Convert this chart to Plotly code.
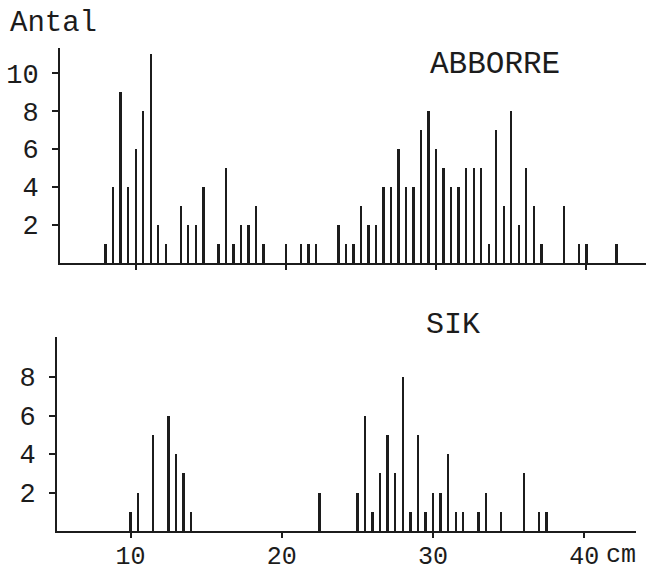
import plotly.graph_objects as go

W, H = 646, 571

# ABBORRE (perch): length class (cm) and count
abborre_cm = [8.0, 8.5, 9.0, 9.5, 10.0, 10.5, 11.0, 11.5, 12.0,
              13.0, 13.5, 14.0, 14.5, 15.5, 16.0, 16.5, 17.0, 17.5, 18.0, 18.5,
              20.0, 21.0, 21.5, 22.0,
              23.5, 24.0, 24.5, 25.0, 25.5, 26.0, 26.5, 27.0, 27.5, 28.0,
              28.5, 29.0, 29.5, 30.0, 30.5, 31.0, 31.5, 32.0, 32.5, 33.0,
              33.5, 34.0, 34.5, 35.0, 35.5, 36.0, 36.5, 37.0,
              38.5, 39.5, 40.0, 42.0]
abborre_n = [1, 4, 9, 4, 6, 8, 11, 2, 1,
             3, 2, 2, 4, 1, 5, 1, 2, 2, 3, 1,
             1, 1, 1, 1,
             2, 1, 1, 3, 2, 2, 4, 4, 6, 4,
             4, 7, 8, 6, 5, 4, 4, 5, 5, 5,
             1, 7, 3, 8, 2, 5, 3, 1,
             3, 1, 1, 1]

# SIK (whitefish)
sik_cm = [10.0, 10.5, 11.5, 12.5, 13.0, 13.5, 14.0,
          22.5,
          25.0, 25.5, 26.0, 26.5, 27.0, 27.5, 28.0, 28.5, 29.0, 29.5,
          30.0, 30.5, 31.0, 31.5, 32.0, 33.0, 33.5, 34.5, 36.0, 37.0, 37.5]
sik_n = [1, 2, 5, 6, 4, 3, 1,
         2,
         2, 6, 1, 3, 5, 3, 8, 1, 5, 1,
         2, 2, 4, 1, 1, 1, 2, 1, 3, 1, 1]

x_ticks = [10, 20, 30, 40]
x_ticktext = ["10", "20", "30", "40"]
unit_pos = [42.43]
unit_text = ["cm"]
top_yticks = [2, 4, 6, 8, 10]
bottom_yticks = [2, 4, 6, 8]

ink = "#1c1c1c"
mono = "Liberation Mono"


def px(x):
    return x / W


def py(y):
    return 1 - y / H


fig = go.Figure()
fig.add_trace(go.Bar(x=abborre_cm, y=abborre_n, width=0.16,
                     marker=dict(color=ink, line=dict(width=0)),
                     xaxis="x", yaxis="y"))
fig.add_trace(go.Bar(x=sik_cm, y=sik_n, width=0.16,
                     marker=dict(color=ink, line=dict(width=0)),
                     xaxis="x2", yaxis="y2"))

axis_common = dict(showline=True, linecolor=ink, linewidth=2,
                   showgrid=False, zeroline=False, automargin=False,
                   ticks="outside", tickcolor=ink, tickwidth=1.5,
                   tickfont=dict(family=mono, size=27, color=ink))

bottom_x_range = [5.14, 43.42]
bottom_x_domain = [px(57), px(636)]

fig.update_layout(
    width=W, height=H,
    margin=dict(l=0, r=0, t=0, b=0),
    paper_bgcolor="white", plot_bgcolor="white",
    showlegend=False,
    bargap=0,
    xaxis=dict(axis_common, domain=[px(60), 1], range=[4.96, 43.97],
               anchor="y", tickvals=x_ticks, ticklen=5,
               showticklabels=False),
    yaxis=dict(axis_common, domain=[py(263), py(48)], range=[0, 11.32],
               anchor="x", tickvals=top_yticks, ticklen=6,
               ticklabelstandoff=8),
    xaxis2=dict(axis_common, domain=bottom_x_domain, range=bottom_x_range,
                anchor="y2", tickvals=x_ticks, ticktext=x_ticktext,
                ticklen=5, ticklabelstandoff=-4,
                tickfont=dict(family=mono, size=25, color=ink)),
    yaxis2=dict(axis_common, domain=[py(531), py(337)], range=[0, 10.08],
                anchor="x2", tickvals=bottom_yticks, ticklen=6,
                ticklabelstandoff=8),
    # extra label-only axis carrying the "cm" unit after the 40 tick
    xaxis3=dict(overlaying="x2", anchor="y2", side="bottom",
                domain=bottom_x_domain, range=bottom_x_range,
                showline=False, showgrid=False, zeroline=False,
                automargin=False, ticks="", tickvals=unit_pos,
                ticktext=unit_text,
                tickfont=dict(family=mono, size=25, color=ink),
                ticklabelstandoff=5),
)

# dummy invisible trace so xaxis3 is drawn
fig.add_trace(go.Scatter(x=unit_pos, y=[0], mode="markers",
                         marker=dict(opacity=0), hoverinfo="skip",
                         xaxis="x3", yaxis="y2"))

fig.add_annotation(text="Antal", x=px(8), y=py(24), xref="paper", yref="paper",
                   xanchor="left", yanchor="middle", showarrow=False,
                   font=dict(family=mono, size=29, color=ink))
fig.add_annotation(text="ABBORRE", x=px(495), y=py(64), xref="paper", yref="paper",
                   xanchor="center", yanchor="middle", showarrow=False,
                   font=dict(family=mono, size=31, color=ink))
fig.add_annotation(text="SIK", x=px(453), y=py(325), xref="paper", yref="paper",
                   xanchor="center", yanchor="middle", showarrow=False,
                   font=dict(family=mono, size=30, color=ink))

# the page body has a default 8px margin; drop it so the figure fills the window
fig.write_html("out.html",
               config={"displayModeBar": False},
               post_script="document.body.style.margin='0';"
                           "document.body.style.overflow='hidden';")
